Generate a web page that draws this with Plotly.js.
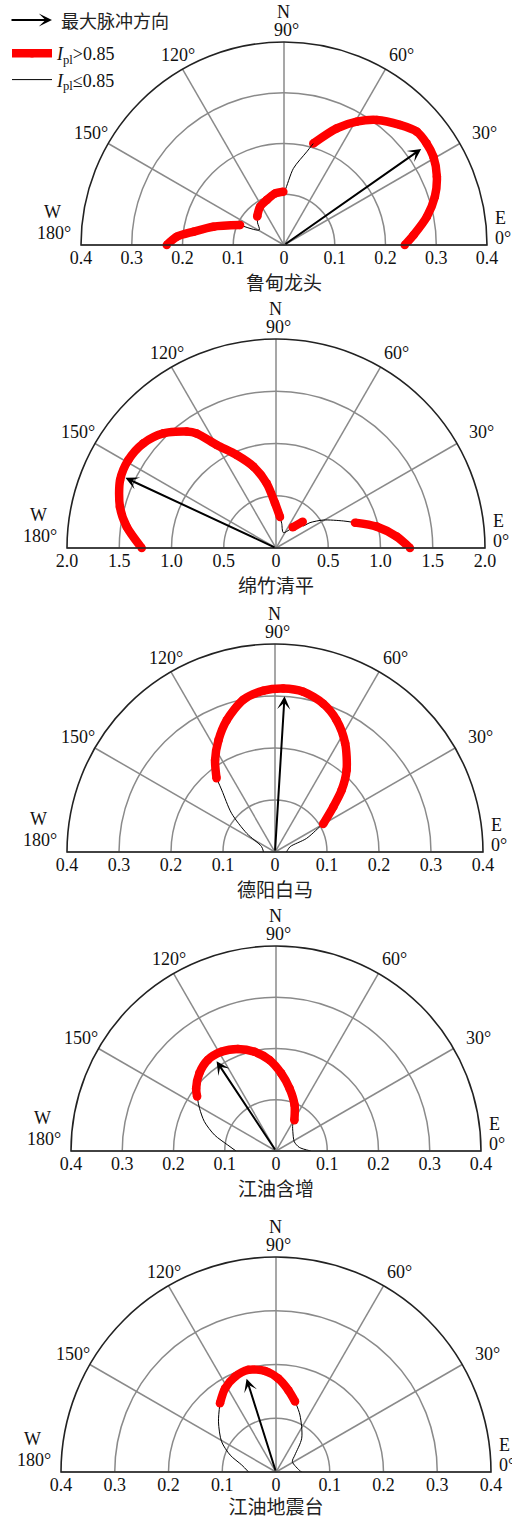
<!DOCTYPE html>
<html>
<head>
<meta charset="utf-8">
<script src="https://cdn.plot.ly/plotly-3.0.1.min.js"></script>
<style>html,body{margin:0;padding:0;background:#fff}</style>
</head>
<body>
<div id="chart" style="width:512px;height:1519px"></div>
<script>
// Stations, top to bottom
const stations = ['鲁甸龙头', '绵竹清平', '德阳白马', '江油含增', '江油地震台'];

// Pulse indicator versus azimuth: angle (deg), radius, and whether I_pl > 0.85 (1) or not (0)
const ldTheta = [0, 4.4, 11.2, 17.7, 24.1, 30.6, 35.5, 40.5, 46, 53.4, 59.5, 65.7, 73.9, 76.3, 83, 89, 90.7, 99.9, 111, 122, 133.3, 140, 148.7, 155.6, 165.5, 171.6, 175.6, 180];
const ldR     = [0.238, 0.256, 0.287, 0.312, 0.330, 0.342, 0.345, 0.344, 0.329, 0.307, 0.282, 0.252, 0.208, 0.189, 0.152, 0.108, 0.105, 0.103, 0.095, 0.089, 0.077, 0.068, 0.057, 0.095, 0.144, 0.180, 0.212, 0.231];
const ldHigh  = [1, 1, 1, 1, 1, 1, 1, 1, 1, 1, 1, 1, 1, 0, 0, 0, 1, 1, 1, 1, 1, 0, 0, 1, 1, 1, 1, 1];

const qpTheta = [0, 5.4, 12, 17.8, 21.9, 30.6, 36.7, 39.5, 44.6, 51.1, 64.4, 77, 82.7, 91.3, 98.2, 105.6, 112.9, 119.9, 124.7, 127.5, 134.5, 141.7, 149.2, 156.4, 165.2, 171.9, 180];
const qpR     = [1.282, 1.16, 0.985, 0.794, 0.694, 0.526, 0.406, 0.331, 0.359, 0.254, 0.163, 0.242, 0.30, 0.43, 0.625, 0.81, 0.966, 1.137, 1.334, 1.404, 1.538, 1.617, 1.645, 1.628, 1.545, 1.443, 1.285];
const qpHigh  = [1, 1, 1, 1, 0, 0, 0, 0, 1, 1, 0, 0, 1, 1, 1, 1, 1, 1, 1, 1, 1, 1, 1, 1, 1, 1, 1];

const bmTheta = [0, 10, 19.6, 23.3, 29.4, 30.1, 37.8, 42.9, 48.8, 57.2, 65, 72, 80, 87.1, 94.1, 101.8, 110.1, 116.8, 123.1, 128.4, 130.7, 138.3, 146.6, 158, 180];
const bmR     = [0.022, 0.025, 0.031, 0.066, 0.099, 0.107, 0.142, 0.175, 0.209, 0.249, 0.280, 0.300, 0.313, 0.315, 0.311, 0.299, 0.270, 0.241, 0.211, 0.181, 0.157, 0.112, 0.065, 0.028, 0.022];
const bmHigh  = [0, 0, 0, 0, 0, 1, 1, 1, 1, 1, 1, 1, 1, 1, 1, 1, 1, 1, 1, 1, 0, 0, 0, 0, 0];

const hzTheta = [0, 8.9, 26.8, 48.9, 57.1, 59.2, 68.1, 77.8, 86.2, 94.1, 102.2, 110.5, 118.9, 126.8, 134.6, 141.9, 145.4, 150.8, 157.7, 165.4, 172.9, 180];
const hzR     = [0.068, 0.046, 0.040, 0.050, 0.060, 0.070, 0.097, 0.125, 0.152, 0.178, 0.198, 0.2125, 0.221, 0.222, 0.213, 0.198, 0.187, 0.171, 0.151, 0.124, 0.095, 0.078];
const hzHigh  = [0, 0, 0, 0, 0, 1, 1, 1, 1, 1, 1, 1, 1, 1, 1, 1, 1, 0, 0, 0, 0, 0];

const dzTheta = [0, 2.4, 32.3, 41.8, 52.7, 67.2, 74.9, 81.4, 88.6, 96.2, 105.2, 113.3, 121.4, 129.2, 138.9, 150.8, 159.7, 168.5, 180];
const dzR     = [0.048, 0.045, 0.036, 0.047, 0.079, 0.115, 0.136, 0.154, 0.174, 0.189, 0.197, 0.193, 0.182, 0.165, 0.142, 0.116, 0.091, 0.065, 0.051];
const dzHigh  = [0, 0, 0, 0, 0, 0, 1, 1, 1, 1, 1, 1, 1, 1, 0, 0, 0, 0, 0];

// Direction (deg) and length of the maximum pulse arrow
const maxDir = [35, 155, 86.5, 123.5, 107.5];
const maxLen = [0.33, 1.59, 0.30, 0.21, 0.182];

// Radial scales and tick labels
const radialMax   = [0.4, 2.0, 0.4, 0.4, 0.4];
const ringsSmall  = [0.1, 0.2, 0.3, 0.4];
const ringsSmallText = ['0.1', '0.2', '0.3', '0.4'];
const ringsLarge  = [0.5, 1.0, 1.5, 2.0];
const ringsLargeText = ['0.5', '1.0', '1.5', '2.0'];

// Azimuth ticks and compass letters
const angleTicks = [0, 30, 60, 90, 120, 150, 180];
const angleText  = ['0°', '30°', '60°', '90°', '120°', '150°', '180°'];
const compassAngles = [0, 90, 180];
const compassText   = ['E', 'N', 'W'];

const curves = [
  [ldTheta, ldR, ldHigh],
  [qpTheta, qpR, qpHigh],
  [bmTheta, bmR, bmHigh],
  [hzTheta, hzR, hzHigh],
  [dzTheta, dzR, dzHigh]
];

// ---- page geometry (pixels) ----
const W = 512, H = 1519;
const frames = [
  {cx: 284, cy: 245, R: 203},
  {cx: 276, cy: 548, R: 209},
  {cx: 275, cy: 852, R: 208},
  {cx: 276, cy: 1151, R: 205},
  {cx: 276, cy: 1472, R: 215}
];
// label offsets from the end of each spoke, in px (dx right, dy down)
const angleShift = {0: [16, -7], 30: [25, -11], 60: [16, -14], 90: [2, -12], 120: [-5, -14], 150: [-17, -11], 180: [-27, -12]};
const compassShift = {0: [13, -27], 90: [-1, -30], 180: [-29, -33]};

const SERIF = 'Liberation Serif, Times New Roman, serif';
const CJK = 'Noto Sans CJK SC, sans-serif';
const GRID = '#8a8a8a';
const RED = '#ff0000';

// split a curve into runs of high / low pulse indicator
function splitRuns(theta, r, high) {
  const out = [];
  const n = theta.length;
  let i = 0;
  while (i < n) {
    let j = i;
    while (j + 1 < n && high[j + 1] === high[i]) j++;
    let a = i, b = j;
    if (!high[i]) { a = Math.max(0, i - 1); b = Math.min(n - 1, j + 1); }
    out.push({hi: high[i], theta: theta.slice(a, b + 1), r: r.slice(a, b + 1)});
    i = j + 1;
  }
  return out;
}

const traces = [];
const layout = {
  width: W, height: H,
  margin: {l: 0, r: 0, t: 0, b: 0},
  paper_bgcolor: '#fff',
  plot_bgcolor: 'rgba(0,0,0,0)',
  showlegend: true,
  legend: {
    x: 7 / W, y: 1 - 35 / H, xanchor: 'left', yanchor: 'top',
    bgcolor: 'rgba(0,0,0,0)', borderwidth: 0,
    font: {family: SERIF, size: 18, color: '#111'},
    itemwidth: 40, traceorder: 'normal', tracegroupgap: 6
  },
  annotations: [],
  shapes: []
};

let legendHiDone = false, legendLoDone = false;

stations.forEach((name, k) => {
  const s = k === 0 ? '' : String(k + 1);
  const f = frames[k];
  const rmax = radialMax[k];
  const rings = rmax > 1 ? ringsLarge : ringsSmall;
  const ringText = rmax > 1 ? ringsLargeText : ringsSmallText;

  const dx = [(f.cx - f.R) / W, (f.cx + f.R) / W];
  const dy = [1 - f.cy / H, 1 - (f.cy - f.R) / H];

  layout['polar' + s] = {
    domain: {x: dx, y: dy},
    sector: [0, 180],
    bgcolor: 'rgba(0,0,0,0)',
    radialaxis: {
      range: [0, rmax], tickvals: rings, showticklabels: false, ticks: '',
      showline: false, gridcolor: GRID, gridwidth: 1.5
    },
    angularaxis: {
      tickvals: angleTicks, showticklabels: false, ticks: '',
      direction: 'counterclockwise', rotation: 0,
      showline: true, linecolor: '#222', linewidth: 1.6,
      gridcolor: GRID, gridwidth: 1.5
    }
  };

  // cartesian overlay: carries the radial tick labels, the station name and the arrow
  const tv = rings.slice().reverse().map(v => -v).concat([0], rings);
  const tt = ringText.slice().reverse().concat(['0'], ringText);
  layout['xaxis' + s] = {
    domain: dx, anchor: 'y' + s, range: [-rmax, rmax],
    tickvals: tv, ticktext: tt, ticks: '', showgrid: false, zeroline: false, showline: false,
    tickfont: {family: SERIF, size: 18, color: '#111'},
    title: {text: name, font: {family: CJK, size: 19, color: '#222'}, standoff: 4},
    fixedrange: true
  };
  layout['yaxis' + s] = {
    domain: dy, anchor: 'x' + s, range: [0, rmax], visible: false, fixedrange: true
  };
  traces.push({type: 'scatter', x: [], y: [], xaxis: 'x' + s, yaxis: 'y' + s, showlegend: false, hoverinfo: 'skip'});

  const [th, rr, hi] = curves[k];
  const runs = splitRuns(th, rr, hi);
  runs.filter(g => !g.hi).forEach(g => {
    traces.push({
      type: 'scatterpolar', subplot: 'polar' + s, theta: g.theta, r: g.r,
      mode: 'lines', line: {color: '#000', width: 1, shape: 'spline', smoothing: 0.8},
      cliponaxis: false, hoverinfo: 'skip',
      name: '<i>I</i><sub>pl</sub>≤0.85', legendgroup: 'lo', showlegend: !legendLoDone
    });
    legendLoDone = true;
  });
  runs.filter(g => g.hi).forEach(g => {
    traces.push({
      type: 'scatterpolar', subplot: 'polar' + s, theta: g.theta, r: g.r,
      mode: 'lines+markers', line: {color: RED, width: 8.5, shape: 'spline', smoothing: 0.8},
      marker: {color: RED, size: 8.5},
      cliponaxis: false, hoverinfo: 'skip',
      name: '<i>I</i><sub>pl</sub>&gt;0.85', legendgroup: 'hi', showlegend: !legendHiDone
    });
    legendHiDone = true;
  });

  // maximum pulse direction
  const a = maxDir[k] * Math.PI / 180;
  layout.annotations.push({
    xref: 'x' + s, yref: 'y' + s, axref: 'x' + s, ayref: 'y' + s,
    x: maxLen[k] * Math.cos(a), y: maxLen[k] * Math.sin(a), ax: 0, ay: 0,
    text: '', showarrow: true, arrowhead: 3, arrowsize: 1.1, arrowwidth: 2, arrowcolor: '#000'
  });

  // azimuth labels around the rim
  angleTicks.forEach((deg, i) => {
    const t = deg * Math.PI / 180;
    const sh = angleShift[deg];
    const px = f.cx + f.R * Math.cos(t) + sh[0];
    const py = f.cy - f.R * Math.sin(t) + sh[1];
    layout.annotations.push({
      xref: 'paper', yref: 'paper', x: px / W, y: 1 - py / H,
      xanchor: 'center', yanchor: 'middle', showarrow: false,
      text: angleText[i], font: {family: SERIF, size: 18, color: '#111'}
    });
  });
  compassAngles.forEach((deg, i) => {
    const t = deg * Math.PI / 180;
    const sh = compassShift[deg];
    const px = f.cx + f.R * Math.cos(t) + sh[0];
    const py = f.cy - f.R * Math.sin(t) + sh[1];
    layout.annotations.push({
      xref: 'paper', yref: 'paper', x: px / W, y: 1 - py / H,
      xanchor: 'center', yanchor: 'middle', showarrow: false,
      text: compassText[i], font: {family: SERIF, size: 18, color: '#111'}
    });
  });
});

// arrow entry of the key
layout.annotations.push({
  xref: 'paper', yref: 'paper', x: 52 / W, y: 1 - 20 / H, ax: -42, ay: 0,
  text: '', showarrow: true, arrowhead: 3, arrowsize: 1.1, arrowwidth: 2, arrowcolor: '#000'
});
layout.annotations.push({
  xref: 'paper', yref: 'paper', x: 59 / W, y: 1 - 20 / H, xanchor: 'left', yanchor: 'middle',
  showarrow: false, text: '最大脉冲方向', font: {family: CJK, size: 18, color: '#222'}
});

// legend order: red first, then black
traces.sort((p, q) => (q.showlegend && q.legendgroup === 'hi') - (p.showlegend && p.legendgroup === 'hi'));

Plotly.newPlot('chart', traces, layout, {displayModeBar: false, staticPlot: true});
</script>
</body>
</html>
